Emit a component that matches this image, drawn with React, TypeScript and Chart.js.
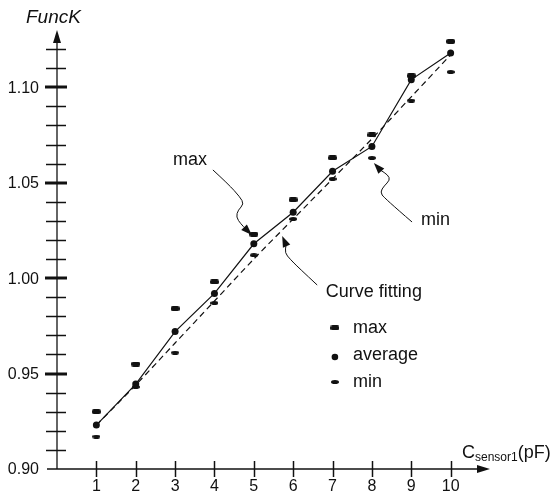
import React, { useEffect, useRef } from "react";
import { Chart, registerables } from "chart.js";

Chart.register(...registerables);

// ---- data ----
const xValues = [1, 2, 3, 4, 5, 6, 7, 8, 9, 10];
const maxValues = [0.930, 0.955, 0.984, 0.998, 1.023, 1.041, 1.063, 1.075, 1.106, 1.124];
const averageValues = [0.923, 0.9445, 0.972, 0.992, 1.018, 1.0345, 1.056, 1.069, 1.104, 1.118];
const minValues = [0.917, 0.943, 0.961, 0.987, 1.012, 1.031, 1.052, 1.063, 1.093, 1.108];
const fitValues = [0.923, 0.944, 0.966, 0.988, 1.010, 1.031, 1.052, 1.073, 1.095, 1.117];

const xTickValues = [1, 2, 3, 4, 5, 6, 7, 8, 9, 10];
const xTickLabels = ["1", "2", "3", "4", "5", "6", "7", "8", "9", "10"];
const yMinorTicks = [0.91, 0.92, 0.93, 0.94, 0.96, 0.97, 0.98, 0.99, 1.01, 1.02, 1.03, 1.04, 1.06, 1.07, 1.08, 1.09, 1.11, 1.12];
const yMajorTicks = [0.95, 1.0, 1.05, 1.1];
const yLabelValues = [0.9, 0.95, 1.0, 1.05, 1.1];
const yTickLabels = ["0.90", "0.95", "1.00", "1.05", "1.10"];
const legendLabels = ["max", "average", "min"];

// annotation paths in data coordinates (x, y)
const maxArrowPath = [[3.96, 1.0567], [4.35, 1.0493], [4.65, 1.0425], [4.75, 1.0388], [4.60, 1.0357], [4.55, 1.0320], [4.67, 1.0284], [4.80, 1.0257], [4.95, 1.0226]];
const fitArrowPath = [[6.61, 0.9964], [6.12, 1.0058], [5.92, 1.0100], [5.79, 1.0132], [5.82, 1.0174], [5.72, 1.0221]];
const minArrowPath = [[9.02, 1.0294], [8.31, 1.0420], [8.21, 1.0451], [8.31, 1.0483], [8.46, 1.0514], [8.41, 1.0540], [8.21, 1.0567], [8.05, 1.0603]];
const maxText = { x: 3.38, y: 1.0619, text: "max" };
const fitText = { x: 6.83, y: 0.9927, text: "Curve fitting" };
const minText = { x: 9.25, y: 1.0305, text: "min" };
const legendPos = { x: 7.06, y: [0.9739, 0.9597, 0.9456], textX: 7.52 };

const INK = "#111111";
const FONT = '"Liberation Sans", Arial, Helvetica, sans-serif';

function makeMarker(w: number, h: number, kind: "rect" | "ellipse"): HTMLCanvasElement {
  const c = document.createElement("canvas");
  c.width = w;
  c.height = h;
  const g = c.getContext("2d")!;
  g.fillStyle = INK;
  g.beginPath();
  if (kind === "rect") {
    const r = Math.min(2, h / 2);
    g.moveTo(r, 0);
    g.lineTo(w - r, 0);
    g.quadraticCurveTo(w, 0, w, r);
    g.lineTo(w, h - r);
    g.quadraticCurveTo(w, h, w - r, h);
    g.lineTo(r, h);
    g.quadraticCurveTo(0, h, 0, h - r);
    g.lineTo(0, r);
    g.quadraticCurveTo(0, 0, r, 0);
  } else {
    g.ellipse(w / 2, h / 2, w / 2, h / 2, 0, 0, Math.PI * 2);
  }
  g.fill();
  return c;
}

function drawSmoothPath(ctx: CanvasRenderingContext2D, pts: number[][]) {
  ctx.beginPath();
  ctx.moveTo(pts[0][0], pts[0][1]);
  for (let i = 1; i < pts.length - 1; i++) {
    const mx = (pts[i][0] + pts[i + 1][0]) / 2;
    const my = (pts[i][1] + pts[i + 1][1]) / 2;
    ctx.quadraticCurveTo(pts[i][0], pts[i][1], mx, my);
  }
  const last = pts[pts.length - 1];
  ctx.lineTo(last[0], last[1]);
  ctx.stroke();
}

function drawArrowHead(ctx: CanvasRenderingContext2D, from: number[], tip: number[], len = 11, half = 4) {
  const a = Math.atan2(tip[1] - from[1], tip[0] - from[0]);
  ctx.beginPath();
  ctx.moveTo(tip[0], tip[1]);
  ctx.lineTo(tip[0] - len * Math.cos(a) + half * Math.sin(a), tip[1] - len * Math.sin(a) - half * Math.cos(a));
  ctx.lineTo(tip[0] - len * Math.cos(a) - half * Math.sin(a), tip[1] - len * Math.sin(a) + half * Math.cos(a));
  ctx.closePath();
  ctx.fill();
}

export default function App() {
  const canvasRef = useRef<HTMLCanvasElement | null>(null);

  useEffect(() => {
    if (!canvasRef.current) return;
    const maxMarker = makeMarker(9, 5, "rect");
    const minMarker = makeMarker(8, 4, "ellipse");

    const toXY = (xs: number[], ys: number[]) => xs.map((x, i) => ({ x, y: ys[i] }));

    const axesPlugin = {
      id: "customAxes",
      beforeDatasetsDraw(chart: any) {
        const { ctx, chartArea, scales } = chart;
        const xs = scales.x;
        const ys = scales.y;
        const x0 = chartArea.left;
        const y0 = chartArea.bottom;
        ctx.save();
        ctx.strokeStyle = INK;
        ctx.fillStyle = INK;
        // y axis line + arrow
        ctx.lineWidth = 1.3;
        ctx.beginPath();
        ctx.moveTo(x0, y0);
        ctx.lineTo(x0, chartArea.top + 6);
        ctx.stroke();
        ctx.beginPath();
        ctx.moveTo(x0, chartArea.top);
        ctx.lineTo(x0 - 4, chartArea.top + 13);
        ctx.lineTo(x0 + 4, chartArea.top + 13);
        ctx.closePath();
        ctx.fill();
        // x axis line + arrow
        ctx.beginPath();
        ctx.moveTo(x0 - 10, y0);
        ctx.lineTo(chartArea.right - 6, y0);
        ctx.stroke();
        ctx.beginPath();
        ctx.moveTo(chartArea.right, y0);
        ctx.lineTo(chartArea.right - 13, y0 - 4);
        ctx.lineTo(chartArea.right - 13, y0 + 4);
        ctx.closePath();
        ctx.fill();
        // y ticks
        ctx.lineWidth = 1.5;
        yMinorTicks.forEach((v) => {
          const py = Math.round(ys.getPixelForValue(v)) + 0.5;
          ctx.beginPath();
          ctx.moveTo(x0 - 11, py);
          ctx.lineTo(x0 + 9, py);
          ctx.stroke();
        });
        ctx.lineWidth = 3;
        yMajorTicks.forEach((v) => {
          const py = Math.round(ys.getPixelForValue(v));
          ctx.beginPath();
          ctx.moveTo(x0 - 12, py);
          ctx.lineTo(x0 + 10, py);
          ctx.stroke();
        });
        // x ticks
        ctx.lineWidth = 1.5;
        xTickValues.forEach((v) => {
          const px = Math.round(xs.getPixelForValue(v)) + 0.5;
          ctx.beginPath();
          ctx.moveTo(px, y0 - 8);
          ctx.lineTo(px, y0 + 8);
          ctx.stroke();
        });
        // tick labels
        ctx.font = "16px " + FONT;
        ctx.textAlign = "right";
        ctx.textBaseline = "middle";
        yLabelValues.forEach((v, i) => {
          ctx.fillText(yTickLabels[i], x0 - 18, ys.getPixelForValue(v) + 1);
        });
        ctx.textAlign = "center";
        ctx.textBaseline = "top";
        xTickValues.forEach((v, i) => {
          ctx.fillText(xTickLabels[i], xs.getPixelForValue(v), y0 + 10);
        });
        // axis titles
        ctx.font = "italic 19px " + FONT;
        ctx.textAlign = "left";
        ctx.textBaseline = "alphabetic";
        ctx.fillText("FuncK", x0 - 31, chartArea.top - 7);
        // x title C_sensor1(pF)
        let tx = chartArea.right - 28;
        const ty = y0 - 11;
        ctx.font = "18px " + FONT;
        ctx.fillText("C", tx, ty);
        tx += ctx.measureText("C").width;
        ctx.font = "12px " + FONT;
        ctx.fillText("sensor1", tx, ty + 3);
        tx += ctx.measureText("sensor1").width;
        ctx.font = "18px " + FONT;
        ctx.fillText("(pF)", tx, ty);
        ctx.restore();
      },
      afterDatasetsDraw(chart: any) {
        const { ctx, scales } = chart;
        const xs = scales.x;
        const ys = scales.y;
        const px = (p: number[]) => [xs.getPixelForValue(p[0]), ys.getPixelForValue(p[1])];
        ctx.save();
        ctx.strokeStyle = INK;
        ctx.fillStyle = INK;
        ctx.lineWidth = 1;
        [maxArrowPath, fitArrowPath, minArrowPath].forEach((path) => {
          const pts = path.map(px);
          drawSmoothPath(ctx, pts.slice(0, pts.length - 1));
          drawArrowHead(ctx, pts[pts.length - 2], pts[pts.length - 1]);
        });
        ctx.font = "18px " + FONT;
        ctx.textBaseline = "middle";
        ctx.textAlign = "center";
        ctx.fillText(maxText.text, xs.getPixelForValue(maxText.x), ys.getPixelForValue(maxText.y));
        ctx.textAlign = "left";
        ctx.fillText(fitText.text, xs.getPixelForValue(fitText.x), ys.getPixelForValue(fitText.y));
        ctx.fillText(minText.text, xs.getPixelForValue(minText.x), ys.getPixelForValue(minText.y));
        // legend
        const mx = xs.getPixelForValue(legendPos.x);
        const tx = xs.getPixelForValue(legendPos.textX);
        legendLabels.forEach((label, i) => {
          const my = ys.getPixelForValue(legendPos.y[i]);
          if (i === 0) ctx.drawImage(maxMarker, mx - 4.5, my - 2.5);
          else if (i === 1) {
            ctx.beginPath();
            ctx.arc(mx, my + 2, 3.3, 0, Math.PI * 2);
            ctx.fill();
          } else ctx.drawImage(minMarker, mx - 4, my - 2);
          ctx.fillText(label, tx, my);
        });
        ctx.restore();
      },
    };

    const chart = new Chart(canvasRef.current, {
      type: "line",
      data: {
        datasets: [
          {
            label: "average",
            data: toXY(xValues, averageValues),
            borderColor: INK,
            backgroundColor: INK,
            borderWidth: 1.2,
            pointStyle: "circle",
            pointRadius: 3.5,
            pointBorderWidth: 0,
            tension: 0,
          },
          {
            label: "Curve fitting",
            data: toXY(xValues, fitValues),
            borderColor: INK,
            borderWidth: 1.2,
            borderDash: [6, 4],
            pointRadius: 0,
            tension: 0.3,
          },
          {
            label: "max",
            data: toXY(xValues, maxValues),
            showLine: false,
            pointStyle: maxMarker as any,
            pointRadius: 4,
          },
          {
            label: "min",
            data: toXY(xValues, minValues),
            showLine: false,
            pointStyle: minMarker as any,
            pointRadius: 4,
          },
        ],
      },
      options: {
        animation: false,
        responsive: false,
        events: [],
        layout: { padding: { left: 57, right: 65, top: 30, bottom: 27 } },
        plugins: { legend: { display: false }, tooltip: { enabled: false } },
        scales: {
          x: { type: "linear", min: 0, max: 11, display: false },
          y: { type: "linear", min: 0.9, max: 1.13, display: false },
        },
      },
      plugins: [axesPlugin],
    });
    return () => chart.destroy();
  }, []);

  return (
    <div style={{ position: "fixed", left: 0, top: 0, width: 555, height: 496, background: "#fff" }}>
      <canvas ref={canvasRef} width={555} height={496} />
    </div>
  );
}
